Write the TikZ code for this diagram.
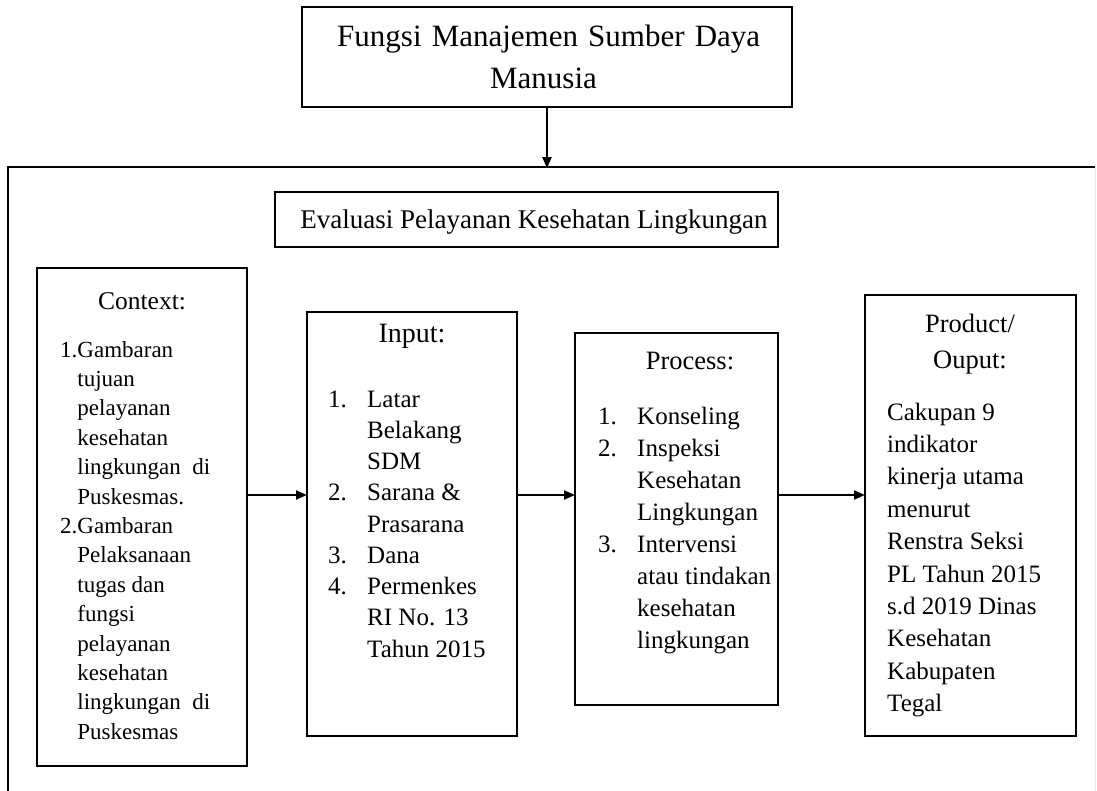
\documentclass[tikz,border=0pt]{standalone}
\usepackage{fontspec}
\setmainfont{Liberation Serif}
\usetikzlibrary{arrows.meta}
\tikzset{
  frameline/.style={draw, line width=2.4pt},
  boxnode/.style={draw, line width=2.4pt, inner sep=0pt, outer sep=0pt, anchor=north west},
  conn/.style={line width=2pt, -{Triangle[length=11pt,width=9pt]}},
  txt/.style={inner sep=0pt, anchor=base west},
  ttl/.style={inner sep=0pt, anchor=base},
}
\begin{document}
\begin{tikzpicture}[x=1pt,y=-1pt]
\useasboundingbox (0,0) rectangle (1097,791);
% outer frame
\draw[frameline] (8,791) -- (8,167) -- (1095,167);
\draw[gray!18, line width=1pt] (1095.5,167) -- (1095.5,791);
\coordinate (frtop) at (0,167);
\coordinate (row) at (0,495);
% boxes
\node[boxnode, minimum width=490pt, minimum height=100pt] (top) at (302,7) {};
\node[boxnode, minimum width=503pt, minimum height=55pt] (eval) at (275,192) {};
\node[boxnode, minimum width=210pt, minimum height=498pt] (ctx) at (37,268) {};
\node[boxnode, minimum width=210pt, minimum height=424pt] (inp) at (307,312) {};
\node[boxnode, minimum width=203pt, minimum height=372pt] (proc) at (575,333) {};
\node[boxnode, minimum width=211pt, minimum height=441pt] (prod) at (865,295) {};
% top box text
\node[txt, font=\fontsize{31}{42}\selectfont] (t1) at (337,47) {\makebox[423pt][s]{Fungsi Manajemen Sumber Daya}};
\node[ttl, font=\fontsize{31}{42}\selectfont] (t2) at (543.5,89) {Manusia};
% eval title
\node[ttl, font=\fontsize{27}{32}\selectfont] (et) at (534,229) {Evaluasi Pelayanan Kesehatan Lingkungan};
% context
\node[ttl, font=\fontsize{25.5}{30}\selectfont] (ctitle) at (142,310) {Context:};
\node[txt, font=\fontsize{23}{29.4}\selectfont] (ctext) at (60,357) {\begin{tabular}[t]{@{}l@{}l@{}}
1.&Gambaran\\ &tujuan\\ &pelayanan\\ &kesehatan\\ &lingkungan\ \ di\\ &Puskesmas.\\
2.&Gambaran\\ &Pelaksanaan\\ &tugas dan\\ &fungsi\\ &pelayanan\\ &kesehatan\\ &lingkungan\ \ di\\ &Puskesmas
\end{tabular}};
% input
\node[ttl, font=\fontsize{28}{32}\selectfont] (ititle) at (412,342) {Input:};
\node[txt, font=\fontsize{25}{31.25}\selectfont] (itext) at (328,407) {\begin{tabular}[t]{@{}l@{}l@{}}
\makebox[39pt][l]{1.}&Latar\\ &Belakang\\ &SDM\\
2.&Sarana \&\\ &Prasarana\\
3.&Dana\\
4.&Permenkes\\ &RI No. 13\\ &Tahun 2015
\end{tabular}};
% process
\node[ttl, font=\fontsize{26.5}{32}\selectfont] (ptitle) at (690,370) {Process:};
\node[txt, font=\fontsize{25}{32.1}\selectfont] (ptext) at (598,424) {\begin{tabular}[t]{@{}l@{}l@{}}
\makebox[39pt][l]{1.}&Konseling\\
2.&Inspeksi\\ &Kesehatan\\ &Lingkungan\\
3.&Intervensi\\ &atau tindakan\\ &kesehatan\\ &lingkungan
\end{tabular}};
% product
\node[ttl, font=\fontsize{26.5}{32}\selectfont] (prt1) at (970,333) {Product/};
\node[ttl, font=\fontsize{26.5}{32}\selectfont] (prt2) at (970,368) {Ouput:};
\node[txt, font=\fontsize{25}{32.4}\selectfont] (prtext) at (887,420) {\begin{tabular}[t]{@{}l@{}}
Cakupan 9\\ indikator\\ kinerja utama\\ menurut\\ Renstra Seksi\\ PL Tahun 2015\\ s.d 2019 Dinas\\ Kesehatan\\ Kabupaten\\ Tegal
\end{tabular}};
% connectors
\draw[conn] (top.south) -- ([yshift=-1.2pt]top.south |- frtop);
\draw[conn] (ctx.east |- row) -- (inp.west |- row);
\draw[conn] (inp.east |- row) -- (proc.west |- row);
\draw[conn] (proc.east |- row) -- (prod.west |- row);
\end{tikzpicture}
\end{document}
